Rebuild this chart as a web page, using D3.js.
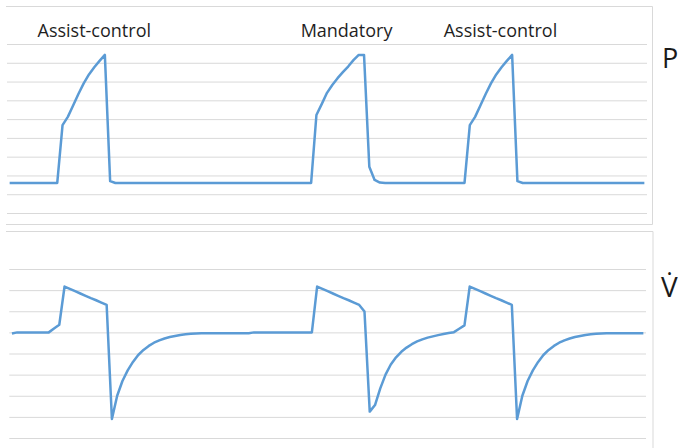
<!DOCTYPE html>
<html>
<head>
<meta charset="utf-8">
<script src="https://cdn.jsdelivr.net/npm/d3@7"></script>
<style>
  html, body { margin: 0; padding: 0; background: #fff; }
  svg { display: block; }
  text { font-family: "Open Sans", "Noto Sans", sans-serif; }
</style>
</head>
<body>
<svg id="chart" width="678" height="448"></svg>
<script>
// ---- Data ----
// Airway pressure samples (121 time steps)
const pressure = [
  8, 8, 8, 8, 8, 8, 8, 8, 8, 8,
  23.4, 25.6, 28.6, 31.7, 34.5, 36.9, 38.8, 40.5, 42.1, 8.5,
  8, 8, 8, 8, 8, 8, 8, 8, 8, 8,
  8, 8, 8, 8, 8, 8, 8, 8, 8, 8,
  8, 8, 8, 8, 8, 8, 8, 8, 8, 8,
  8, 8, 8, 8, 8, 8, 8, 8,
  26.1, 29.0, 32.0, 34.1, 35.9, 37.5, 39.0, 40.7, 42.1, 42.1,
  12.3, 8.8, 8.1,
  8, 8, 8, 8, 8, 8, 8, 8, 8, 8, 8, 8, 8, 8, 8, 8,
  23.4, 25.6, 28.6, 31.7, 34.5, 36.9, 38.8, 40.5, 42.1, 8.5,
  8, 8, 8, 8, 8, 8, 8, 8, 8, 8, 8, 8,
  8, 8, 8, 8, 8, 8, 8, 8, 8, 8, 8, 8
];
// Flow samples (121 time steps)
const flow = [
  -0.05, 0, 0, 0, 0, 0, 0, 0, 0.18, 0.36,
  2.17, 2.06, 1.95, 1.84, 1.73, 1.62, 1.52, 1.41, 1.30, -4.1,
  -3.0, -2.3, -1.8, -1.40, -1.07, -0.83, -0.64, -0.49, -0.38, -0.29,
  -0.22, -0.17, -0.12, -0.09, -0.07, -0.05, -0.04, -0.04, -0.04, -0.04,
  -0.04, -0.04, -0.04, -0.04, -0.04, -0.04, 0, 0, 0, 0,
  0, 0, 0, 0, 0, 0, 0, 0,
  2.17, 2.06, 1.95, 1.84, 1.73, 1.62, 1.52, 1.41, 1.30, 0.99,
  -3.75, -3.44, -2.65, -2.0, -1.52, -1.18, -0.92, -0.72, -0.56, -0.43,
  -0.33, -0.25, -0.19, -0.13, -0.08, -0.03, 0.01, 0.17, 0.33,
  2.17, 2.06, 1.95, 1.84, 1.73, 1.62, 1.52, 1.41, 1.30, -4.1,
  -3.0, -2.3, -1.8, -1.40, -1.07, -0.83, -0.64, -0.49, -0.38, -0.29,
  -0.22, -0.17, -0.12, -0.09, -0.07, -0.05, -0.04, -0.04, -0.04, -0.04,
  -0.04, -0.04, -0.04, -0.04
];
const pressureTicks = [0, 5, 10, 15, 20, 25, 30, 35, 40, 45];
const flowTicks = [-6, -5, -4, -3, -2, -1, 0, 1, 2, 3];
const breathLabels = ["Assist-control", "Mandatory", "Assist-control"];
const breathLabelIndex = [16, 63.7, 92.8];
const pressureLabel = "P";
const flowLabel = "V\u0307";

// ---- Drawing ----
const svg = d3.select("#chart");
const lineColor = "#5b9bd5";
const gridColor = "#d9d9d9";
const idx = d3.range(pressure.length);

// Chart frames (partially visible)
function frame(x0, y0, x1, y1) {
  const g = svg.append("g").attr("fill", "none").attr("stroke", gridColor).attr("stroke-width", 1);
  g.append("line").attr("x1", x0).attr("y1", y0).attr("x2", x1).attr("y2", y0);
  g.append("line").attr("x1", x1).attr("y1", y0).attr("x2", x1).attr("y2", y1);
  g.append("line").attr("x1", x0).attr("y1", y1).attr("x2", x1).attr("y2", y1);
}
frame(6, 6.5, 652.5, 224.5);
frame(6, 231.5, 653, 470);

// --- Pressure panel ---
const xP = d3.scalePoint().domain(idx).range([7, 647]).padding(0.5);
const yP = d3.scaleLinear().domain([0, 45]).range([213, 44]);
// continuous position in index units (for label centres)
const xPc = d3.scaleLinear().domain([0, 1]).range([xP(0), xP(0) + xP.step()]);

svg.append("g")
  .attr("transform", "translate(7,0)")
  .call(d3.axisLeft(yP).tickValues(pressureTicks).tickSize(-640).tickFormat(""))
  .call(g => g.select(".domain").remove())
  .call(g => g.selectAll(".tick line").attr("stroke", gridColor).attr("stroke-width", 1));

svg.append("path")
  .datum(pressure)
  .attr("fill", "none")
  .attr("stroke", lineColor)
  .attr("stroke-width", 2.5)
  .attr("stroke-linejoin", "round")
  .attr("d", d3.line().x((d, i) => xP(i)).y(d => yP(d)));

svg.selectAll("text.breath")
  .data(breathLabels)
  .join("text")
  .attr("class", "breath")
  .attr("x", (d, i) => xPc(breathLabelIndex[i]))
  .attr("y", 37)
  .attr("text-anchor", "middle")
  .attr("font-size", 18)
  .attr("fill", "#1f1f1f")
  .text(d => d);

svg.append("text")
  .attr("x", 662)
  .attr("y", 68)
  .attr("font-size", 27)
  .attr("fill", "#1a1a1a")
  .text(pressureLabel);

// --- Flow panel ---
const xF = d3.scalePoint().domain(idx).range([9.3, 646]).padding(0.5);
const yF = d3.scaleLinear().domain([-5, 3]).range([438, 269]);

svg.append("g")
  .attr("transform", "translate(9.3,0)")
  .call(d3.axisLeft(yF).tickValues(flowTicks).tickSize(-636.7).tickFormat(""))
  .call(g => g.select(".domain").remove())
  .call(g => g.selectAll(".tick line").attr("stroke", gridColor).attr("stroke-width", 1));

svg.append("path")
  .datum(flow)
  .attr("fill", "none")
  .attr("stroke", lineColor)
  .attr("stroke-width", 2.5)
  .attr("stroke-linejoin", "round")
  .attr("d", d3.line().x((d, i) => xF(i)).y(d => yF(d)));

svg.append("text")
  .attr("x", 661)
  .attr("y", 297)
  .attr("font-size", 28)
  .attr("fill", "#1a1a1a")
  .text(flowLabel);
</script>
</body>
</html>
